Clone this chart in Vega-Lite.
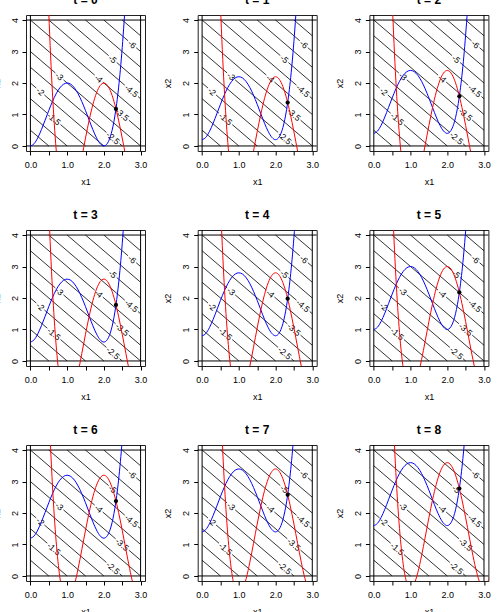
{
"$schema":"https://vega.github.io/schema/vega-lite/v6.json",
"padding":{"left":-9,"top":-7,"right":0,"bottom":0},
"background":"white",
"config":{
 "view":{"stroke":"#222","strokeWidth":1},
 "axis":{"domain":false,"grid":false,"tickColor":"#000","tickSize":4,"labelFont":"Liberation Sans","labelFontSize":9,"labelColor":"#000","titleFont":"Liberation Sans","titleFontSize":9,"titleFontWeight":"normal","titleColor":"#000","labelPadding":3,"labelFlush":false,"labelOverlap":false,"titlePadding":6},
 "axisX":{"tickCount":7,"labelPadding":5,"titlePadding":8},
 "axisY":{"tickCount":5,"labelAngle":270,"titlePadding":9},
 "title":{"font":"Liberation Sans","fontSize":12,"fontWeight":"bold","color":"#000","offset":8}
},
"datasets":{
 "vb":[{"x":0},{"x":3}],
 "hb":[{"y":0},{"y":4}],
 "cont":[
  {"g":"0.5","x":0,"y":0.5},{"g":"0.5","x":0.5,"y":0},
  {"g":"1","x":0,"y":1},{"g":"1","x":1,"y":0},
  {"g":"1.5a","x":0,"y":1.5},{"g":"1.5a","x":0.46,"y":1.04},{"g":"1.5b","x":0.82,"y":0.68},{"g":"1.5b","x":1.5,"y":0},
  {"g":"2a","x":0,"y":2},{"g":"2a","x":0.16,"y":1.84},{"g":"2b","x":0.38,"y":1.62},{"g":"2b","x":2,"y":0},
  {"g":"2.5a","x":0,"y":2.5},{"g":"2.5a","x":2.07,"y":0.43},{"g":"2.5b","x":2.43,"y":0.07},{"g":"2.5b","x":2.5,"y":0},
  {"g":"3a","x":0,"y":3},{"g":"3a","x":0.68,"y":2.32},{"g":"3b","x":0.9,"y":2.1},{"g":"3b","x":3,"y":0},
  {"g":"3.5a","x":0,"y":3.5},{"g":"3.5a","x":2.32,"y":1.18},{"g":"3.5b","x":2.68,"y":0.82},{"g":"3.5b","x":3,"y":0.5},
  {"g":"4a","x":0,"y":4},{"g":"4a","x":1.75,"y":2.25},{"g":"4b","x":1.97,"y":2.03},{"g":"4b","x":3,"y":1},
  {"g":"4.5a","x":0.5,"y":4},{"g":"4.5a","x":2.57,"y":1.93},{"g":"4.5b","x":2.93,"y":1.57},{"g":"4.5b","x":3,"y":1.5},
  {"g":"5a","x":1,"y":4},{"g":"5a","x":2.13,"y":2.87},{"g":"5b","x":2.35,"y":2.65},{"g":"5b","x":3,"y":2},
  {"g":"5.5","x":1.5,"y":4},{"g":"5.5","x":3,"y":2.5},
  {"g":"6a","x":2,"y":4},{"g":"6a","x":2.66,"y":3.34},{"g":"6b","x":2.88,"y":3.12},{"g":"6b","x":3,"y":3},
  {"g":"6.5","x":2.5,"y":4},{"g":"6.5","x":3,"y":3.5}
 ],
 "lab":[
  {"x":0.64,"y":0.86,"l":"-1.5"},{"x":0.27,"y":1.73,"l":"-2"},{"x":2.25,"y":0.25,"l":"-2.5"},
  {"x":0.79,"y":2.21,"l":"-3"},{"x":2.5,"y":1.0,"l":"-3.5"},{"x":1.86,"y":2.14,"l":"-4"},
  {"x":2.75,"y":1.75,"l":"-4.5"},{"x":2.24,"y":2.76,"l":"-5"},{"x":2.77,"y":3.23,"l":"-6"}
 ],
 "pt":[{"x":2.3295,"y0":1.178,"y1":1.378,"y2":1.578,"y3":1.778,"y4":1.978,"y5":2.178,"y6":2.378,"y7":2.578,"y8":2.778}],
 "cur":[
  {"c":"b","x":0,"y0":0,"y1":0.2,"y2":0.4,"y3":0.6,"y4":0.8,"y5":1,"y6":1.2,"y7":1.4,"y8":1.6},
  {"c":"b","x":0.1,"y0":0.072,"y1":0.272,"y2":0.472,"y3":0.672,"y4":0.872,"y5":1.072,"y6":1.272,"y7":1.472,"y8":1.672},
  {"c":"b","x":0.2,"y0":0.259,"y1":0.459,"y2":0.659,"y3":0.859,"y4":1.059,"y5":1.259,"y6":1.459,"y7":1.659,"y8":1.859},
  {"c":"b","x":0.3,"y0":0.52,"y1":0.72,"y2":0.92,"y3":1.12,"y4":1.32,"y5":1.52,"y6":1.72,"y7":1.92,"y8":2.12},
  {"c":"b","x":0.4,"y0":0.819,"y1":1.019,"y2":1.219,"y3":1.419,"y4":1.619,"y5":1.819,"y6":2.019,"y7":2.219,"y8":2.419},
  {"c":"b","x":0.5,"y0":1.125,"y1":1.325,"y2":1.525,"y3":1.725,"y4":1.925,"y5":2.125,"y6":2.325,"y7":2.525,"y8":2.725},
  {"c":"b","x":0.6,"y0":1.411,"y1":1.611,"y2":1.811,"y3":2.011,"y4":2.211,"y5":2.411,"y6":2.611,"y7":2.811,"y8":3.011},
  {"c":"b","x":0.7,"y0":1.656,"y1":1.856,"y2":2.056,"y3":2.256,"y4":2.456,"y5":2.656,"y6":2.856,"y7":3.056,"y8":3.256},
  {"c":"b","x":0.8,"y0":1.843,"y1":2.043,"y2":2.243,"y3":2.443,"y4":2.643,"y5":2.843,"y6":3.043,"y7":3.243,"y8":3.443},
  {"c":"b","x":0.9,"y0":1.96,"y1":2.16,"y2":2.36,"y3":2.56,"y4":2.76,"y5":2.96,"y6":3.16,"y7":3.36,"y8":3.56},
  {"c":"b","x":1.0,"y0":2,"y1":2.2,"y2":2.4,"y3":2.6,"y4":2.8,"y5":3,"y6":3.2,"y7":3.4,"y8":3.6},
  {"c":"b","x":1.1,"y0":1.96,"y1":2.16,"y2":2.36,"y3":2.56,"y4":2.76,"y5":2.96,"y6":3.16,"y7":3.36,"y8":3.56},
  {"c":"b","x":1.2,"y0":1.843,"y1":2.043,"y2":2.243,"y3":2.443,"y4":2.643,"y5":2.843,"y6":3.043,"y7":3.243,"y8":3.443},
  {"c":"b","x":1.3,"y0":1.656,"y1":1.856,"y2":2.056,"y3":2.256,"y4":2.456,"y5":2.656,"y6":2.856,"y7":3.056,"y8":3.256},
  {"c":"b","x":1.4,"y0":1.411,"y1":1.611,"y2":1.811,"y3":2.011,"y4":2.211,"y5":2.411,"y6":2.611,"y7":2.811,"y8":3.011},
  {"c":"b","x":1.5,"y0":1.125,"y1":1.325,"y2":1.525,"y3":1.725,"y4":1.925,"y5":2.125,"y6":2.325,"y7":2.525,"y8":2.725},
  {"c":"b","x":1.6,"y0":0.819,"y1":1.019,"y2":1.219,"y3":1.419,"y4":1.619,"y5":1.819,"y6":2.019,"y7":2.219,"y8":2.419},
  {"c":"b","x":1.7,"y0":0.52,"y1":0.72,"y2":0.92,"y3":1.12,"y4":1.32,"y5":1.52,"y6":1.72,"y7":1.92,"y8":2.12},
  {"c":"b","x":1.8,"y0":0.259,"y1":0.459,"y2":0.659,"y3":0.859,"y4":1.059,"y5":1.259,"y6":1.459,"y7":1.659,"y8":1.859},
  {"c":"b","x":1.9,"y0":0.072,"y1":0.272,"y2":0.472,"y3":0.672,"y4":0.872,"y5":1.072,"y6":1.272,"y7":1.472,"y8":1.672},
  {"c":"b","x":2.0,"y0":0,"y1":0.2,"y2":0.4,"y3":0.6,"y4":0.8,"y5":1,"y6":1.2,"y7":1.4,"y8":1.6},
  {"c":"b","x":2.1,"y0":0.088,"y1":0.288,"y2":0.488,"y3":0.688,"y4":0.888,"y5":1.088,"y6":1.288,"y7":1.488,"y8":1.688},
  {"c":"b","x":2.15,"y0":0.208,"y1":0.408,"y2":0.608,"y3":0.808,"y4":1.008,"y5":1.208,"y6":1.408,"y7":1.608,"y8":1.808},
  {"c":"b","x":2.2,"y0":0.387,"y1":0.587,"y2":0.787,"y3":0.987,"y4":1.187,"y5":1.387,"y6":1.587,"y7":1.787,"y8":1.987},
  {"c":"b","x":2.25,"y0":0.633,"y1":0.833,"y2":1.033,"y3":1.233,"y4":1.433,"y5":1.633,"y6":1.833,"y7":2.033,"y8":2.233},
  {"c":"b","x":2.3,"y0":0.952,"y1":1.152,"y2":1.352,"y3":1.552,"y4":1.752,"y5":1.952,"y6":2.152,"y7":2.352,"y8":2.552},
  {"c":"b","x":2.35,"y0":1.353,"y1":1.553,"y2":1.753,"y3":1.953,"y4":2.153,"y5":2.353,"y6":2.553,"y7":2.753,"y8":2.953},
  {"c":"b","x":2.4,"y0":1.843,"y1":2.043,"y2":2.243,"y3":2.443,"y4":2.643,"y5":2.843,"y6":3.043,"y7":3.243,"y8":3.443},
  {"c":"b","x":2.45,"y0":2.431,"y1":2.631,"y2":2.831,"y3":3.031,"y4":3.231,"y5":3.431,"y6":3.631,"y7":3.831,"y8":4.031},
  {"c":"b","x":2.5,"y0":3.125,"y1":3.325,"y2":3.525,"y3":3.725,"y4":3.925,"y5":4.125,"y6":4.325,"y7":4.525,"y8":4.725},
  {"c":"b","x":2.55,"y0":3.934,"y1":4.134,"y2":4.334,"y3":4.534,"y4":4.734,"y5":4.934,"y6":5.134,"y7":5.334,"y8":5.534},
  {"c":"b","x":2.6,"y0":4.867,"y1":5.067,"y2":5.267,"y3":5.467,"y4":5.667,"y5":5.867,"y6":6.067,"y7":6.267,"y8":6.467},
  {"c":"b","x":2.65,"y0":5.934,"y1":6.134,"y2":6.334,"y3":6.534,"y4":6.734,"y5":6.934,"y6":7.134,"y7":7.334,"y8":7.534},
  {"c":"r","x":0.4,"y0":7.734,"y1":7.934,"y2":8.134,"y3":8.334,"y4":8.534,"y5":8.734,"y6":8.934,"y7":9.134,"y8":9.334},
  {"c":"r","x":0.45,"y0":5.868,"y1":6.068,"y2":6.268,"y3":6.468,"y4":6.668,"y5":6.868,"y6":7.068,"y7":7.268,"y8":7.468},
  {"c":"r","x":0.5,"y0":4.25,"y1":4.45,"y2":4.65,"y3":4.85,"y4":5.05,"y5":5.25,"y6":5.45,"y7":5.65,"y8":5.85},
  {"c":"r","x":0.55,"y0":2.862,"y1":3.062,"y2":3.262,"y3":3.462,"y4":3.662,"y5":3.862,"y6":4.062,"y7":4.262,"y8":4.462},
  {"c":"r","x":0.6,"y0":1.686,"y1":1.886,"y2":2.086,"y3":2.286,"y4":2.486,"y5":2.686,"y6":2.886,"y7":3.086,"y8":3.286},
  {"c":"r","x":0.65,"y0":0.706,"y1":0.906,"y2":1.106,"y3":1.306,"y4":1.506,"y5":1.706,"y6":1.906,"y7":2.106,"y8":2.306},
  {"c":"r","x":0.7,"y0":-0.096,"y1":0.104,"y2":0.304,"y3":0.504,"y4":0.704,"y5":0.904,"y6":1.104,"y7":1.304,"y8":1.504},
  {"c":"r","x":0.75,"y0":-0.734,"y1":-0.534,"y2":-0.334,"y3":-0.134,"y4":0.066,"y5":0.266,"y6":0.466,"y7":0.666,"y8":0.866},
  {"c":"r","x":0.8,"y0":-1.226,"y1":-1.026,"y2":-0.826,"y3":-0.626,"y4":-0.426,"y5":-0.226,"y6":-0.026,"y7":0.174,"y8":0.374},
  {"c":"r","x":0.9,"y0":-1.824,"y1":-1.624,"y2":-1.424,"y3":-1.224,"y4":-1.024,"y5":-0.824,"y6":-0.624,"y7":-0.424,"y8":-0.224},
  {"c":"r","x":1.0,"y0":-2,"y1":-1.8,"y2":-1.6,"y3":-1.4,"y4":-1.2,"y5":-1,"y6":-0.8,"y7":-0.6,"y8":-0.4},
  {"c":"r","x":1.1,"y0":-1.856,"y1":-1.656,"y2":-1.456,"y3":-1.256,"y4":-1.056,"y5":-0.856,"y6":-0.656,"y7":-0.456,"y8":-0.256},
  {"c":"r","x":1.2,"y0":-1.482,"y1":-1.282,"y2":-1.082,"y3":-0.882,"y4":-0.682,"y5":-0.482,"y6":-0.282,"y7":-0.082,"y8":0.118},
  {"c":"r","x":1.3,"y0":-0.96,"y1":-0.76,"y2":-0.56,"y3":-0.36,"y4":-0.16,"y5":0.04,"y6":0.24,"y7":0.44,"y8":0.64},
  {"c":"r","x":1.4,"y0":-0.362,"y1":-0.162,"y2":0.038,"y3":0.238,"y4":0.438,"y5":0.638,"y6":0.838,"y7":1.038,"y8":1.238},
  {"c":"r","x":1.5,"y0":0.25,"y1":0.45,"y2":0.65,"y3":0.85,"y4":1.05,"y5":1.25,"y6":1.45,"y7":1.65,"y8":1.85},
  {"c":"r","x":1.6,"y0":0.822,"y1":1.022,"y2":1.222,"y3":1.422,"y4":1.622,"y5":1.822,"y6":2.022,"y7":2.222,"y8":2.422},
  {"c":"r","x":1.7,"y0":1.312,"y1":1.512,"y2":1.712,"y3":1.912,"y4":2.112,"y5":2.312,"y6":2.512,"y7":2.712,"y8":2.912},
  {"c":"r","x":1.8,"y0":1.686,"y1":1.886,"y2":2.086,"y3":2.286,"y4":2.486,"y5":2.686,"y6":2.886,"y7":3.086,"y8":3.286},
  {"c":"r","x":1.9,"y0":1.92,"y1":2.12,"y2":2.32,"y3":2.52,"y4":2.72,"y5":2.92,"y6":3.12,"y7":3.32,"y8":3.52},
  {"c":"r","x":2.0,"y0":2,"y1":2.2,"y2":2.4,"y3":2.6,"y4":2.8,"y5":3,"y6":3.2,"y7":3.4,"y8":3.6},
  {"c":"r","x":2.1,"y0":1.92,"y1":2.12,"y2":2.32,"y3":2.52,"y4":2.72,"y5":2.92,"y6":3.12,"y7":3.32,"y8":3.52},
  {"c":"r","x":2.2,"y0":1.686,"y1":1.886,"y2":2.086,"y3":2.286,"y4":2.486,"y5":2.686,"y6":2.886,"y7":3.086,"y8":3.286},
  {"c":"r","x":2.3,"y0":1.312,"y1":1.512,"y2":1.712,"y3":1.912,"y4":2.112,"y5":2.312,"y6":2.512,"y7":2.712,"y8":2.912},
  {"c":"r","x":2.4,"y0":0.822,"y1":1.022,"y2":1.222,"y3":1.422,"y4":1.622,"y5":1.822,"y6":2.022,"y7":2.222,"y8":2.422},
  {"c":"r","x":2.5,"y0":0.25,"y1":0.45,"y2":0.65,"y3":0.85,"y4":1.05,"y5":1.25,"y6":1.45,"y7":1.65,"y8":1.85},
  {"c":"r","x":2.6,"y0":-0.362,"y1":-0.162,"y2":0.038,"y3":0.238,"y4":0.438,"y5":0.638,"y6":0.838,"y7":1.038,"y8":1.238},
  {"c":"r","x":2.7,"y0":-0.96,"y1":-0.76,"y2":-0.56,"y3":-0.36,"y4":-0.16,"y5":0.04,"y6":0.24,"y7":0.44,"y8":0.64},
  {"c":"r","x":2.8,"y0":-1.482,"y1":-1.282,"y2":-1.082,"y3":-0.882,"y4":-0.682,"y5":-0.482,"y6":-0.282,"y7":-0.082,"y8":0.118},
  {"c":"r","x":2.9,"y0":-1.856,"y1":-1.656,"y2":-1.456,"y3":-1.256,"y4":-1.056,"y5":-0.856,"y6":-0.656,"y7":-0.456,"y8":-0.256},
  {"c":"r","x":3.0,"y0":-2,"y1":-1.8,"y2":-1.6,"y3":-1.4,"y4":-1.2,"y5":-1,"y6":-0.8,"y7":-0.6,"y8":-0.4},
  {"c":"r","x":3.1,"y0":-1.824,"y1":-1.624,"y2":-1.424,"y3":-1.224,"y4":-1.024,"y5":-0.824,"y6":-0.624,"y7":-0.424,"y8":-0.224},
  {"c":"r","x":3.2,"y0":-1.226,"y1":-1.026,"y2":-0.826,"y3":-0.626,"y4":-0.426,"y5":-0.226,"y6":-0.026,"y7":0.174,"y8":0.374}
 ]
},
"columns":3,
"spacing":{"row":79,"column":52.7},
"bounds":"flush",
"concat":[
{"title":"t = 0","width":119,"height":136,"layer":[
 {"data":{"name":"vb"},"mark":{"type":"rule","color":"#000","strokeWidth":1},"encoding":{"x":{"field":"x","type":"quantitative","scale":{"domain":[-0.12,3.12],"nice":false,"zero":false},"axis":{"title":"x1","labelExpr":"datum.value % 1 === 0 ? format(datum.value, '.1f') : ''"}}}},
 {"data":{"name":"hb"},"mark":{"type":"rule","color":"#000","strokeWidth":1},"encoding":{"y":{"field":"y","type":"quantitative","scale":{"domain":[-0.16,4.16],"nice":false,"zero":false},"axis":{"title":"x2"}}}},
 {"data":{"name":"cont"},"mark":{"type":"line","color":"#000","strokeWidth":0.8},"encoding":{"x":{"field":"x","type":"quantitative"},"y":{"field":"y","type":"quantitative"},"detail":{"field":"g","type":"nominal"}}},
 {"data":{"name":"lab"},"mark":{"type":"text","angle":40.7,"fontSize":8.5,"font":"Liberation Sans","color":"#000"},"encoding":{"x":{"field":"x","type":"quantitative"},"y":{"field":"y","type":"quantitative"},"text":{"field":"l","type":"nominal"}}},
 {"data":{"name":"cur"},"mark":{"type":"line","clip":true,"strokeWidth":1,"interpolate":"monotone"},"encoding":{"x":{"field":"x","type":"quantitative"},"y":{"field":"y0","type":"quantitative"},"color":{"field":"c","type":"nominal","scale":{"domain":["b","r"],"range":["#0000ff","#ff0000"]},"legend":null}}},
 {"data":{"name":"pt"},"mark":{"type":"circle","color":"#000","size":18,"opacity":1},"encoding":{"x":{"field":"x","type":"quantitative"},"y":{"field":"y0","type":"quantitative"}}}
]},
{"title":"t = 1","width":119,"height":136,"layer":[
 {"data":{"name":"vb"},"mark":{"type":"rule","color":"#000","strokeWidth":1},"encoding":{"x":{"field":"x","type":"quantitative","scale":{"domain":[-0.12,3.12],"nice":false,"zero":false},"axis":{"title":"x1","labelExpr":"datum.value % 1 === 0 ? format(datum.value, '.1f') : ''"}}}},
 {"data":{"name":"hb"},"mark":{"type":"rule","color":"#000","strokeWidth":1},"encoding":{"y":{"field":"y","type":"quantitative","scale":{"domain":[-0.16,4.16],"nice":false,"zero":false},"axis":{"title":"x2"}}}},
 {"data":{"name":"cont"},"mark":{"type":"line","color":"#000","strokeWidth":0.8},"encoding":{"x":{"field":"x","type":"quantitative"},"y":{"field":"y","type":"quantitative"},"detail":{"field":"g","type":"nominal"}}},
 {"data":{"name":"lab"},"mark":{"type":"text","angle":40.7,"fontSize":8.5,"font":"Liberation Sans","color":"#000"},"encoding":{"x":{"field":"x","type":"quantitative"},"y":{"field":"y","type":"quantitative"},"text":{"field":"l","type":"nominal"}}},
 {"data":{"name":"cur"},"mark":{"type":"line","clip":true,"strokeWidth":1,"interpolate":"monotone"},"encoding":{"x":{"field":"x","type":"quantitative"},"y":{"field":"y1","type":"quantitative"},"color":{"field":"c","type":"nominal","scale":{"domain":["b","r"],"range":["#0000ff","#ff0000"]},"legend":null}}},
 {"data":{"name":"pt"},"mark":{"type":"circle","color":"#000","size":18,"opacity":1},"encoding":{"x":{"field":"x","type":"quantitative"},"y":{"field":"y1","type":"quantitative"}}}
]},
{"title":"t = 2","width":119,"height":136,"layer":[
 {"data":{"name":"vb"},"mark":{"type":"rule","color":"#000","strokeWidth":1},"encoding":{"x":{"field":"x","type":"quantitative","scale":{"domain":[-0.12,3.12],"nice":false,"zero":false},"axis":{"title":"x1","labelExpr":"datum.value % 1 === 0 ? format(datum.value, '.1f') : ''"}}}},
 {"data":{"name":"hb"},"mark":{"type":"rule","color":"#000","strokeWidth":1},"encoding":{"y":{"field":"y","type":"quantitative","scale":{"domain":[-0.16,4.16],"nice":false,"zero":false},"axis":{"title":"x2"}}}},
 {"data":{"name":"cont"},"mark":{"type":"line","color":"#000","strokeWidth":0.8},"encoding":{"x":{"field":"x","type":"quantitative"},"y":{"field":"y","type":"quantitative"},"detail":{"field":"g","type":"nominal"}}},
 {"data":{"name":"lab"},"mark":{"type":"text","angle":40.7,"fontSize":8.5,"font":"Liberation Sans","color":"#000"},"encoding":{"x":{"field":"x","type":"quantitative"},"y":{"field":"y","type":"quantitative"},"text":{"field":"l","type":"nominal"}}},
 {"data":{"name":"cur"},"mark":{"type":"line","clip":true,"strokeWidth":1,"interpolate":"monotone"},"encoding":{"x":{"field":"x","type":"quantitative"},"y":{"field":"y2","type":"quantitative"},"color":{"field":"c","type":"nominal","scale":{"domain":["b","r"],"range":["#0000ff","#ff0000"]},"legend":null}}},
 {"data":{"name":"pt"},"mark":{"type":"circle","color":"#000","size":18,"opacity":1},"encoding":{"x":{"field":"x","type":"quantitative"},"y":{"field":"y2","type":"quantitative"}}}
]},
{"title":"t = 3","width":119,"height":136,"layer":[
 {"data":{"name":"vb"},"mark":{"type":"rule","color":"#000","strokeWidth":1},"encoding":{"x":{"field":"x","type":"quantitative","scale":{"domain":[-0.12,3.12],"nice":false,"zero":false},"axis":{"title":"x1","labelExpr":"datum.value % 1 === 0 ? format(datum.value, '.1f') : ''"}}}},
 {"data":{"name":"hb"},"mark":{"type":"rule","color":"#000","strokeWidth":1},"encoding":{"y":{"field":"y","type":"quantitative","scale":{"domain":[-0.16,4.16],"nice":false,"zero":false},"axis":{"title":"x2"}}}},
 {"data":{"name":"cont"},"mark":{"type":"line","color":"#000","strokeWidth":0.8},"encoding":{"x":{"field":"x","type":"quantitative"},"y":{"field":"y","type":"quantitative"},"detail":{"field":"g","type":"nominal"}}},
 {"data":{"name":"lab"},"mark":{"type":"text","angle":40.7,"fontSize":8.5,"font":"Liberation Sans","color":"#000"},"encoding":{"x":{"field":"x","type":"quantitative"},"y":{"field":"y","type":"quantitative"},"text":{"field":"l","type":"nominal"}}},
 {"data":{"name":"cur"},"mark":{"type":"line","clip":true,"strokeWidth":1,"interpolate":"monotone"},"encoding":{"x":{"field":"x","type":"quantitative"},"y":{"field":"y3","type":"quantitative"},"color":{"field":"c","type":"nominal","scale":{"domain":["b","r"],"range":["#0000ff","#ff0000"]},"legend":null}}},
 {"data":{"name":"pt"},"mark":{"type":"circle","color":"#000","size":18,"opacity":1},"encoding":{"x":{"field":"x","type":"quantitative"},"y":{"field":"y3","type":"quantitative"}}}
]},
{"title":"t = 4","width":119,"height":136,"layer":[
 {"data":{"name":"vb"},"mark":{"type":"rule","color":"#000","strokeWidth":1},"encoding":{"x":{"field":"x","type":"quantitative","scale":{"domain":[-0.12,3.12],"nice":false,"zero":false},"axis":{"title":"x1","labelExpr":"datum.value % 1 === 0 ? format(datum.value, '.1f') : ''"}}}},
 {"data":{"name":"hb"},"mark":{"type":"rule","color":"#000","strokeWidth":1},"encoding":{"y":{"field":"y","type":"quantitative","scale":{"domain":[-0.16,4.16],"nice":false,"zero":false},"axis":{"title":"x2"}}}},
 {"data":{"name":"cont"},"mark":{"type":"line","color":"#000","strokeWidth":0.8},"encoding":{"x":{"field":"x","type":"quantitative"},"y":{"field":"y","type":"quantitative"},"detail":{"field":"g","type":"nominal"}}},
 {"data":{"name":"lab"},"mark":{"type":"text","angle":40.7,"fontSize":8.5,"font":"Liberation Sans","color":"#000"},"encoding":{"x":{"field":"x","type":"quantitative"},"y":{"field":"y","type":"quantitative"},"text":{"field":"l","type":"nominal"}}},
 {"data":{"name":"cur"},"mark":{"type":"line","clip":true,"strokeWidth":1,"interpolate":"monotone"},"encoding":{"x":{"field":"x","type":"quantitative"},"y":{"field":"y4","type":"quantitative"},"color":{"field":"c","type":"nominal","scale":{"domain":["b","r"],"range":["#0000ff","#ff0000"]},"legend":null}}},
 {"data":{"name":"pt"},"mark":{"type":"circle","color":"#000","size":18,"opacity":1},"encoding":{"x":{"field":"x","type":"quantitative"},"y":{"field":"y4","type":"quantitative"}}}
]},
{"title":"t = 5","width":119,"height":136,"layer":[
 {"data":{"name":"vb"},"mark":{"type":"rule","color":"#000","strokeWidth":1},"encoding":{"x":{"field":"x","type":"quantitative","scale":{"domain":[-0.12,3.12],"nice":false,"zero":false},"axis":{"title":"x1","labelExpr":"datum.value % 1 === 0 ? format(datum.value, '.1f') : ''"}}}},
 {"data":{"name":"hb"},"mark":{"type":"rule","color":"#000","strokeWidth":1},"encoding":{"y":{"field":"y","type":"quantitative","scale":{"domain":[-0.16,4.16],"nice":false,"zero":false},"axis":{"title":"x2"}}}},
 {"data":{"name":"cont"},"mark":{"type":"line","color":"#000","strokeWidth":0.8},"encoding":{"x":{"field":"x","type":"quantitative"},"y":{"field":"y","type":"quantitative"},"detail":{"field":"g","type":"nominal"}}},
 {"data":{"name":"lab"},"mark":{"type":"text","angle":40.7,"fontSize":8.5,"font":"Liberation Sans","color":"#000"},"encoding":{"x":{"field":"x","type":"quantitative"},"y":{"field":"y","type":"quantitative"},"text":{"field":"l","type":"nominal"}}},
 {"data":{"name":"cur"},"mark":{"type":"line","clip":true,"strokeWidth":1,"interpolate":"monotone"},"encoding":{"x":{"field":"x","type":"quantitative"},"y":{"field":"y5","type":"quantitative"},"color":{"field":"c","type":"nominal","scale":{"domain":["b","r"],"range":["#0000ff","#ff0000"]},"legend":null}}},
 {"data":{"name":"pt"},"mark":{"type":"circle","color":"#000","size":18,"opacity":1},"encoding":{"x":{"field":"x","type":"quantitative"},"y":{"field":"y5","type":"quantitative"}}}
]},
{"title":"t = 6","width":119,"height":136,"layer":[
 {"data":{"name":"vb"},"mark":{"type":"rule","color":"#000","strokeWidth":1},"encoding":{"x":{"field":"x","type":"quantitative","scale":{"domain":[-0.12,3.12],"nice":false,"zero":false},"axis":{"title":"x1","labelExpr":"datum.value % 1 === 0 ? format(datum.value, '.1f') : ''"}}}},
 {"data":{"name":"hb"},"mark":{"type":"rule","color":"#000","strokeWidth":1},"encoding":{"y":{"field":"y","type":"quantitative","scale":{"domain":[-0.16,4.16],"nice":false,"zero":false},"axis":{"title":"x2"}}}},
 {"data":{"name":"cont"},"mark":{"type":"line","color":"#000","strokeWidth":0.8},"encoding":{"x":{"field":"x","type":"quantitative"},"y":{"field":"y","type":"quantitative"},"detail":{"field":"g","type":"nominal"}}},
 {"data":{"name":"lab"},"mark":{"type":"text","angle":40.7,"fontSize":8.5,"font":"Liberation Sans","color":"#000"},"encoding":{"x":{"field":"x","type":"quantitative"},"y":{"field":"y","type":"quantitative"},"text":{"field":"l","type":"nominal"}}},
 {"data":{"name":"cur"},"mark":{"type":"line","clip":true,"strokeWidth":1,"interpolate":"monotone"},"encoding":{"x":{"field":"x","type":"quantitative"},"y":{"field":"y6","type":"quantitative"},"color":{"field":"c","type":"nominal","scale":{"domain":["b","r"],"range":["#0000ff","#ff0000"]},"legend":null}}},
 {"data":{"name":"pt"},"mark":{"type":"circle","color":"#000","size":18,"opacity":1},"encoding":{"x":{"field":"x","type":"quantitative"},"y":{"field":"y6","type":"quantitative"}}}
]},
{"title":"t = 7","width":119,"height":136,"layer":[
 {"data":{"name":"vb"},"mark":{"type":"rule","color":"#000","strokeWidth":1},"encoding":{"x":{"field":"x","type":"quantitative","scale":{"domain":[-0.12,3.12],"nice":false,"zero":false},"axis":{"title":"x1","labelExpr":"datum.value % 1 === 0 ? format(datum.value, '.1f') : ''"}}}},
 {"data":{"name":"hb"},"mark":{"type":"rule","color":"#000","strokeWidth":1},"encoding":{"y":{"field":"y","type":"quantitative","scale":{"domain":[-0.16,4.16],"nice":false,"zero":false},"axis":{"title":"x2"}}}},
 {"data":{"name":"cont"},"mark":{"type":"line","color":"#000","strokeWidth":0.8},"encoding":{"x":{"field":"x","type":"quantitative"},"y":{"field":"y","type":"quantitative"},"detail":{"field":"g","type":"nominal"}}},
 {"data":{"name":"lab"},"mark":{"type":"text","angle":40.7,"fontSize":8.5,"font":"Liberation Sans","color":"#000"},"encoding":{"x":{"field":"x","type":"quantitative"},"y":{"field":"y","type":"quantitative"},"text":{"field":"l","type":"nominal"}}},
 {"data":{"name":"cur"},"mark":{"type":"line","clip":true,"strokeWidth":1,"interpolate":"monotone"},"encoding":{"x":{"field":"x","type":"quantitative"},"y":{"field":"y7","type":"quantitative"},"color":{"field":"c","type":"nominal","scale":{"domain":["b","r"],"range":["#0000ff","#ff0000"]},"legend":null}}},
 {"data":{"name":"pt"},"mark":{"type":"circle","color":"#000","size":18,"opacity":1},"encoding":{"x":{"field":"x","type":"quantitative"},"y":{"field":"y7","type":"quantitative"}}}
]},
{"title":"t = 8","width":119,"height":136,"layer":[
 {"data":{"name":"vb"},"mark":{"type":"rule","color":"#000","strokeWidth":1},"encoding":{"x":{"field":"x","type":"quantitative","scale":{"domain":[-0.12,3.12],"nice":false,"zero":false},"axis":{"title":"x1","labelExpr":"datum.value % 1 === 0 ? format(datum.value, '.1f') : ''"}}}},
 {"data":{"name":"hb"},"mark":{"type":"rule","color":"#000","strokeWidth":1},"encoding":{"y":{"field":"y","type":"quantitative","scale":{"domain":[-0.16,4.16],"nice":false,"zero":false},"axis":{"title":"x2"}}}},
 {"data":{"name":"cont"},"mark":{"type":"line","color":"#000","strokeWidth":0.8},"encoding":{"x":{"field":"x","type":"quantitative"},"y":{"field":"y","type":"quantitative"},"detail":{"field":"g","type":"nominal"}}},
 {"data":{"name":"lab"},"mark":{"type":"text","angle":40.7,"fontSize":8.5,"font":"Liberation Sans","color":"#000"},"encoding":{"x":{"field":"x","type":"quantitative"},"y":{"field":"y","type":"quantitative"},"text":{"field":"l","type":"nominal"}}},
 {"data":{"name":"cur"},"mark":{"type":"line","clip":true,"strokeWidth":1,"interpolate":"monotone"},"encoding":{"x":{"field":"x","type":"quantitative"},"y":{"field":"y8","type":"quantitative"},"color":{"field":"c","type":"nominal","scale":{"domain":["b","r"],"range":["#0000ff","#ff0000"]},"legend":null}}},
 {"data":{"name":"pt"},"mark":{"type":"circle","color":"#000","size":18,"opacity":1},"encoding":{"x":{"field":"x","type":"quantitative"},"y":{"field":"y8","type":"quantitative"}}}
]}
]
}
